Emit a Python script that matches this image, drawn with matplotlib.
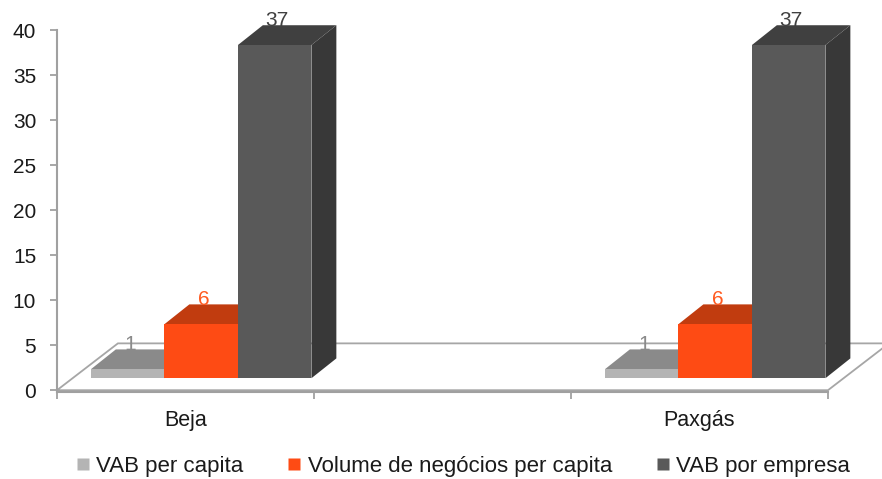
import matplotlib
matplotlib.use("Agg")
import matplotlib.pyplot as plt
from matplotlib.patches import Polygon
from matplotlib.lines import Line2D
import numpy as np

plt.rcParams['font.family'] = ['Liberation Sans', 'DejaVu Sans']

categories = ["Beja", "", "Paxgás"]
series_names = ["VAB per capita", "Volume de negócios per capita", "VAB por empresa"]
vab_per_capita = [1, np.nan, 1]
volume_negocios = [6, np.nan, 6]
vab_por_empresa = [37, np.nan, 37]
series_values = [vab_per_capita, volume_negocios, vab_por_empresa]
y_ticks = [0, 5, 10, 15, 20, 25, 30, 35, 40]

front_cols = ["#b4b4b4", "#fe4b14", "#595959"]
top_cols = ["#8a8a8a", "#c13c0f", "#404040"]
side_cols = ["#7a7a7a", "#a83410", "#383838"]
label_cols = ["#8a8a8a", "#ff5a20", "#404040"]

W, H = 882, 479
fig = plt.figure(figsize=(W / 100, H / 100), dpi=100)
ax = fig.add_axes([57 / W, (H - 392) / H, 771 / W, 362 / H])
ax.set_xlim(-0.5, 2.5)
ax.set_ylim(-0.2, 40)

# 3D geometry (in data units)
floor_dx, floor_dy = 0.237, 5.2
bar_base_dy, bar_shift = 1.33, 0.061
bar_dx, bar_dy = 0.097, 2.2
bar_w = 0.286

floor = Polygon([(-0.5, 0), (2.5, 0), (2.5 + floor_dx, floor_dy), (-0.5 + floor_dx, floor_dy)],
                closed=True, facecolor="white", edgecolor="#a6a6a6", lw=1.3,
                clip_on=False, zorder=1)
ax.add_patch(floor)

x_idx = np.arange(len(categories))
for ci in range(len(categories)):
    for si, vals in enumerate(series_values):
        v = vals[ci]
        if np.isnan(v):
            continue
        x0 = ci - 1.5 * bar_w + si * bar_w + bar_shift
        x1 = x0 + bar_w
        b = bar_base_dy
        t = b + v
        z = 3 + si
        side = Polygon([(x1, b), (x1 + bar_dx, b + bar_dy), (x1 + bar_dx, t + bar_dy), (x1, t)],
                       closed=True, facecolor=side_cols[si], edgecolor="none",
                       clip_on=False, zorder=z)
        top = Polygon([(x0, t), (x1, t), (x1 + bar_dx, t + bar_dy), (x0 + bar_dx, t + bar_dy)],
                      closed=True, facecolor=top_cols[si], edgecolor="none",
                      clip_on=False, zorder=z)
        ax.add_patch(side)
        ax.add_patch(top)
        ax.bar(x0, v, width=bar_w, bottom=b, align='edge', color=front_cols[si],
               edgecolor="none", zorder=z, clip_on=False)
        ax.text(x0 + bar_w / 2 + 0.01, t + bar_dy + 0.5, f"{v:g}", ha="center", va="center",
                fontsize=15, color=label_cols[si], zorder=10, clip_on=False)

# axes styling
for s in ["top", "right"]:
    ax.spines[s].set_visible(False)
for s in ["left", "bottom"]:
    ax.spines[s].set_color("#a0a0a0")
    ax.spines[s].set_linewidth(1.5)
ax.spines["left"].set_bounds(-0.2, 40)

ax.set_yticks(y_ticks)
ax.set_yticklabels([str(t) for t in y_ticks])
ax.tick_params(axis="y", direction="out", length=5, width=1.3, color="#a0a0a0",
               labelsize=15, labelcolor="#1a1a1a", pad=10)

ax.set_xticks(np.arange(len(categories) + 1) - 0.5)
ax.set_xticklabels([])
ax.tick_params(axis="x", which="major", direction="out", length=5, width=1.3, color="#a0a0a0")
ax.set_xticks(x_idx, minor=True)
ax.set_xticklabels(categories, minor=True)
ax.tick_params(axis="x", which="minor", length=0, labelsize=15.5, labelcolor="#1a1a1a", pad=13)

handles = [Line2D([0], [0], marker="s", linestyle="none", markersize=8,
                  markerfacecolor=c, markeredgecolor="none") for c in front_cols]
fig.legend(handles, series_names, loc="center", bbox_to_anchor=(0.525, 0.027),
           ncol=3, frameon=False, fontsize=16, handlelength=0.6, handletextpad=0.3,
           columnspacing=2.0, labelcolor="#1a1a1a")

fig.savefig("out.png", dpi=100)
